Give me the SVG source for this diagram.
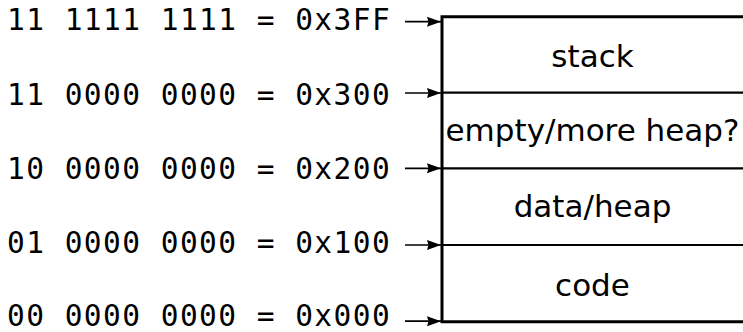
<svg xmlns="http://www.w3.org/2000/svg" width="743" height="332" viewBox="0 0 743 332">
  <style>
    .addr { font-family: "DejaVu Sans Mono", "Liberation Mono", monospace; font-size: 29.5px; letter-spacing: 1.45px; fill: #000; }
    .seg { font-family: "DejaVu Sans", "Liberation Sans", sans-serif; font-size: 31px; fill: #000; text-anchor: middle; }
    .edge { stroke: #000; stroke-width: 3; fill: none; }
    .divider { stroke: #000; stroke-width: 2.2; fill: none; }
    .arrow { stroke: #000; stroke-width: 1.7; fill: none; marker-end: url(#head); }
  </style>
  <defs>
    <marker id="head" markerUnits="userSpaceOnUse" markerWidth="16" markerHeight="12" refX="14" refY="6" orient="auto">
      <path d="M0,1 L14,6 L0,11 L1.5,6 Z" fill="#000"/>
    </marker>
  </defs>

  <!-- address labels -->
  <g id="addr-3ff"><text class="addr" x="7" y="30">11 1111 1111 = 0x3FF</text></g>
  <g id="addr-300"><text class="addr" x="7" y="105">11 0000 0000 = 0x300</text></g>
  <g id="addr-200"><text class="addr" x="7" y="179">10 0000 0000 = 0x200</text></g>
  <g id="addr-100"><text class="addr" x="7" y="253">01 0000 0000 = 0x100</text></g>
  <g id="addr-000"><text class="addr" x="7" y="326">00 0000 0000 = 0x000</text></g>

  <!-- memory layout column -->
  <g id="memory">
    <path class="edge" d="M745,16.7 H442 V321.7 H745"/>
  </g>
  <g id="seg-stack">
    <text class="seg" x="592.5" y="67">stack</text>
  </g>
  <g id="seg-empty">
    <path class="divider" d="M442,92.7 H745"/>
    <text class="seg" x="592.5" y="141">empty/more heap?</text>
  </g>
  <g id="seg-data">
    <path class="divider" d="M442,168.3 H745"/>
    <text class="seg" x="592.5" y="217">data/heap</text>
  </g>
  <g id="seg-code">
    <path class="divider" d="M442,245 H745"/>
    <text class="seg" x="592.5" y="296">code</text>
  </g>

  <!-- pointers from addresses to the column -->
  <g id="connectors">
    <path class="arrow" d="M405,21.7 H441"/>
    <path class="arrow" d="M405,93 H441"/>
    <path class="arrow" d="M405,168.3 H441"/>
    <path class="arrow" d="M405,245 H441"/>
    <path class="arrow" d="M405,321.2 H441"/>
  </g>
</svg>
